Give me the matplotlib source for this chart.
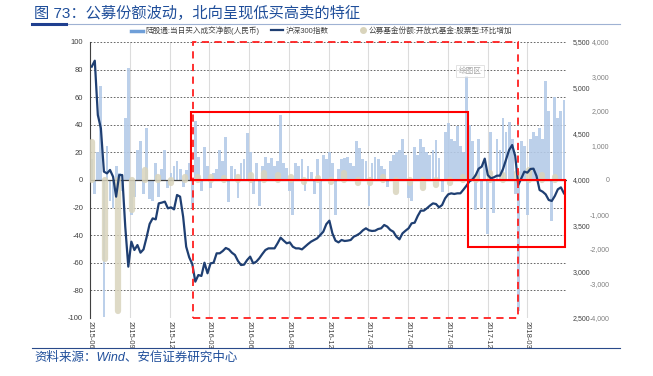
import pandas as pd
import matplotlib
matplotlib.use("Agg")
import matplotlib.pyplot as plt
import matplotlib.dates as mdates
from matplotlib.lines import Line2D
from matplotlib.patches import Rectangle
from matplotlib.ticker import FuncFormatter, MultipleLocator

plt.rcParams['font.family'] = ['Liberation Sans', 'Noto Sans CJK SC', 'DejaVu Sans']
plt.rcParams['axes.unicode_minus'] = False

TITLE = "图 73：公募份额波动，北向呈现低买高卖的特征"
SOURCE = "资料来源：Wind、安信证券研究中心"
LABEL_NORTH = "陆股通:当日买入成交净额(人民币)"
LABEL_INDEX = "沪深300指数"
LABEL_FUND = "公募基金份额:开放式基金:股票型:环比增加"
PLOT_AREA_TAG = "绘图区"

# weekly readings (Fridays from 2015-06-05)
first_week = "2015-06-05"
hs300 = [
    5232, 5297, 4706, 4562, 4091, 4072, 4109, 4036, 3819, 4054, 4054, 3493, 3058,
    3330, 3239, 3293, 3210, 3246, 3377, 3522, 3583, 3572, 3746, 3754, 3765, 3692,
    3703, 3681, 3837, 3819, 3601, 3275, 3159, 3087, 2895, 2967, 2957, 3101, 2986,
    3094, 3101, 3203, 3203, 3228, 3261, 3246, 3210, 3185, 3120, 3076, 3080, 3130,
    3167, 3094, 3112, 3149, 3196, 3239, 3257, 3257, 3257, 3312, 3373, 3341, 3312,
    3322, 3275, 3257, 3257, 3246, 3275, 3304, 3330, 3348, 3366, 3402, 3438, 3520,
    3558, 3420, 3341, 3322, 3348, 3337, 3341, 3348, 3384, 3399, 3420, 3453, 3475,
    3453, 3446, 3449, 3467, 3475, 3511, 3493, 3457, 3438, 3384, 3355, 3420, 3449,
    3475, 3529, 3536, 3609, 3667, 3667, 3692, 3721, 3746, 3739, 3703, 3728, 3801,
    3844, 3855, 3848, 3855, 3855, 3895, 3938, 3986, 4007, 4051, 4123, 4145, 4232,
    4054, 4018, 4029, 4047, 4047, 4120, 4225, 4326, 4380, 4261, 3946, 4018, 4091,
    4080, 4120, 4123, 4043, 3891, 3873, 3844, 3783, 3772, 3826, 3899, 3920, 3855,
]
north_flow = [
    15, -10, 20, 68, -99, 25, -15, -20, 10, 5, -8, 45, 81, -25, -12, 22, 28, -10,
    38, -14, -15, 12, -12, 8, 22, -6, 5, 10, 14, 8, -5, 7, 12, -20, 43, 17, -8, 24, 10,
    -6, 5, 8, 22, 14, 31, -16, 10, 8, -13, 12, 15, 34, 20, -10, 12, -19, 10, 17, 12,
    16, 10, 14, 47, 12, 9, -8, -25, 12, 10, 15, -8, 10, 6, -10, 15, -41, 18, 15,
    20, 12, -25, 8, 15, 16, 17, 12, 10, 28, 23, 15, 14, -19, 12, 17, 15, 10, 8, -5,
    14, 18, 20, 22, 30, 18, -13, -15, 24, 18, 30, 24, 20, 18, 22, 29, 16, -9, 35, 41,
    30, 28, 39, 25, 20, 75, 40, 28, -22, 30, -20, 12, -39, 35, -24, 30, 22, 45, 35,
    42, 30, -10, -95, 28, 25, -25, 30, 35, 32, 38, 30, 72, 50, -30, 60, 45, 50, 58,
]

# monthly fund share change
first_month = "2015-06-01"
fund_share_chg = [
    1100, -2300, -3800, -870, 290, 100, -100, 100, 80, 100, 50, 100,
    150, 200, 150, 100, -50, 50, -50, 200, -100, -100, 100, -340,
    -100, -240, -150, -100, 100, 100, 200, 150, 200, 290, 150, 100,
]

x_start, x_end = "2015-06-01", "2018-06-01"
quarter_ticks = pd.date_range("2015-06-01", "2018-03-01", freq="3MS")

# annotation boxes (left-axis units)
focus_window = ("2016-01-24", "2018-02-09")
buy_box = ("2016-01-20", "2017-10-17", 49)
sell_box = ("2017-10-16", "2018-05-28", -48.5)

weeks = pd.date_range(first_week, periods=len(hs300), freq="W-FRI")
months = pd.date_range(first_month, periods=len(fund_share_chg), freq="MS") + pd.Timedelta(days=4)

fig = plt.figure(figsize=(6.53, 3.76), dpi=100)
ax = fig.add_axes([90 / 653, 1 - 318 / 376, 477 / 653, 276 / 376])

ax.bar(weeks, north_flow, width=6.5, color="#b5cbe8", alpha=0.9, zorder=2)
ax.axhline(0, color="#404040", lw=0.9, zorder=3)
ax.set_ylim(-100, 100)
ax.set_xlim(pd.Timestamp(x_start), pd.Timestamp(x_end))
ax.yaxis.set_major_locator(MultipleLocator(20))
ax.set_xticks(quarter_ticks)
ax.xaxis.set_major_formatter(mdates.DateFormatter("%Y-%m"))
ax.tick_params(axis="x", labelsize=5.5, colors="#404040", length=0, pad=2,
               labelrotation=-90)
ax.tick_params(axis="y", labelsize=5.5, colors="#404040", length=0, pad=5)
ax.set_axisbelow(True)
ax.grid(axis="y", linestyle=(0, (2, 2)), color="#505050", lw=0.6)
ax.grid(axis="x", color="#dcdcdc", lw=0.8)
for s in ["top", "right", "bottom"]:
    ax.spines[s].set_visible(False)
ax.spines["left"].set_color("#404040")
ax.spines["left"].set_linewidth(0.8)

ax3 = ax.twinx()
vl = ax3.vlines(months, 0, fund_share_chg, colors="#d9d4bc", linewidth=4.5, alpha=0.85)
vl.set_capstyle("round")
ax3.set_ylim(-4000, 4000)
ax3.yaxis.set_major_locator(MultipleLocator(1000))
ax3.yaxis.set_major_formatter(FuncFormatter(lambda v, p: f"{v:,.0f}"))
ax3.tick_params(axis="y", labelsize=5, colors="#808080", length=0, pad=30.5)
for lab in ax3.get_yticklabels():
    lab.set_horizontalalignment("right")

ax2 = ax.twinx()
ax2.plot(weeks, hs300, color="#1f3f72", lw=1.6, zorder=3)
ax2.set_ylim(2500, 5500)
ax2.yaxis.set_major_locator(MultipleLocator(500))
ax2.yaxis.set_major_formatter(FuncFormatter(lambda v, p: f"{v:,.0f}"))
ax2.tick_params(axis="y", labelsize=5, colors="#404040", length=0, pad=4)
for a in (ax2, ax3):
    for s in a.spines.values():
        s.set_visible(False)

def day(d):
    return mdates.date2num(pd.Timestamp(d))

ax2.add_patch(Rectangle((day(focus_window[0]), -100), day(focus_window[1]) - day(focus_window[0]), 200,
                        transform=ax.transData, fill=False, ec="#ff2020", lw=1.3,
                        ls=(0, (4, 3)), clip_on=False, zorder=5))
for start, end, level in (buy_box, sell_box):
    ax2.add_patch(Rectangle((day(start), 0), day(end) - day(start), level,
                            transform=ax.transData, fill=False, ec="#ff0000", lw=1.5,
                            clip_on=False, zorder=6))

fig.text(470 / 653, 1 - 71 / 376, PLOT_AREA_TAG, fontsize=5.5, color="#a8a8a8",
         ha="center", va="center",
         bbox=dict(boxstyle="square,pad=0.35", fc="white", ec="#d0d0d0", lw=0.6, alpha=0.7))

# legend row
leg_y = 1 - 31 / 376
legend_items = [
    (Line2D([], [], color="#6f9fd8", lw=2.5), LABEL_NORTH, 131),
    (Line2D([], [], color="#1f3f72", lw=1.6), LABEL_INDEX, 271),
    (Line2D([], [], color="#d9d4bc", marker="o", ms=4, lw=0), LABEL_FUND, 360),
]
for handle, label, px in legend_items:
    fig.legend([handle], [label], loc="center left", bbox_to_anchor=(px / 653, leg_y),
               frameon=False, fontsize=5.5, handlelength=1.6 if label != LABEL_FUND else 0.8,
               handletextpad=0.3, borderpad=0, borderaxespad=0,
               labelcolor="#404040")

# title and footer
fig.text(34 / 653, 1 - 13 / 376, TITLE, fontsize=11, color="#1f4e9a", va="center")
fig.add_artist(Line2D([32 / 653, 620 / 653], [1 - 24 / 376] * 2, color="#9fb2d3", lw=0.8))
fig.add_artist(Line2D([32 / 653, 66 / 653], [1 - 24 / 376] * 2, color="#1f3f8f", lw=2.2))
fig.add_artist(Line2D([32 / 653, 620 / 653], [1 - 348 / 376] * 2, color="#2a4a8a", lw=0.8))
fig.text(34 / 653, 1 - 358 / 376, SOURCE, fontsize=9, color="#1f4e9a", style="italic",
         va="center")

fig.savefig("out.png", dpi=100)
